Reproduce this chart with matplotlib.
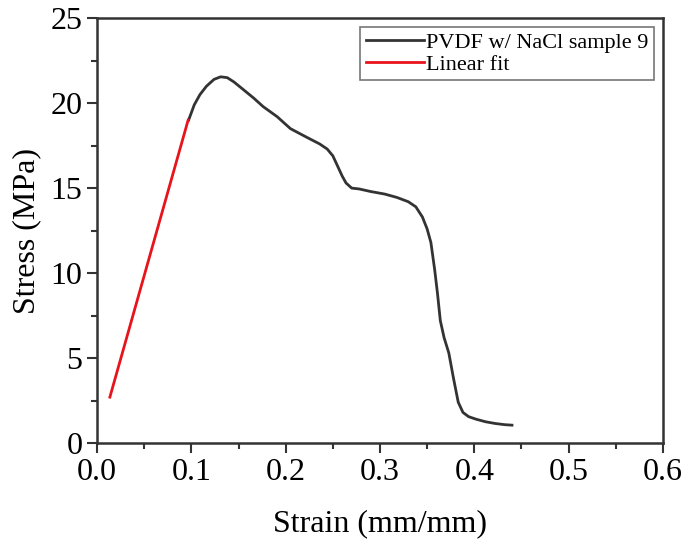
"""
Stress-strain curve with a linear fit on the elastic part.
"""
import matplotlib
matplotlib.use('Agg')
import matplotlib.pyplot as plt
from matplotlib.ticker import MultipleLocator

# Strain (mm/mm) and stress (MPa)
strain = [0.097, 0.103, 0.109, 0.116, 0.124, 0.131, 0.138, 0.145, 0.155,
          0.166, 0.176, 0.191, 0.205, 0.222, 0.236, 0.244, 0.250, 0.255,
          0.260, 0.264, 0.270, 0.278, 0.290, 0.305, 0.318, 0.330, 0.338,
          0.345, 0.350, 0.354, 0.358, 0.361, 0.364, 0.368, 0.373, 0.378,
          0.383, 0.388, 0.394, 0.402, 0.412, 0.422, 0.432, 0.440]
stress = [19.0, 19.9, 20.5, 21.0, 21.4, 21.55, 21.5, 21.25, 20.8,
          20.3, 19.8, 19.2, 18.5, 18.0, 17.6, 17.3, 16.9, 16.3,
          15.7, 15.3, 15.0, 14.95, 14.8, 14.65, 14.45, 14.2, 13.9,
          13.3, 12.6, 11.8, 10.2, 8.8, 7.2, 6.2, 5.3, 3.8,
          2.4, 1.8, 1.55, 1.4, 1.25, 1.15, 1.08, 1.05]

# Linear fit segment
fit_strain = [0.0135, 0.0965]
fit_stress = [2.7, 19.0]

plt.rcParams['font.family'] = ['Liberation Serif', 'DejaVu Serif']

fig = plt.figure(figsize=(6.89, 5.51), dpi=100)
ax = fig.add_axes([0.141, 0.196, 0.821, 0.771])

ax.plot(strain, stress, color='#333333', lw=2, label='PVDF w/ NaCl sample 9')
ax.plot(fit_strain, fit_stress, color='#e8141c', lw=2, label='Linear fit')

ax.set_xlim(0, 0.6)
ax.set_ylim(0, 25)
ax.xaxis.set_major_locator(MultipleLocator(0.1))
ax.xaxis.set_minor_locator(MultipleLocator(0.05))
ax.yaxis.set_major_locator(MultipleLocator(5))
ax.yaxis.set_minor_locator(MultipleLocator(2.5))
ax.tick_params(which='major', direction='out', length=7, width=1.5,
               labelsize=23, color='#333333')
ax.tick_params(which='minor', direction='out', length=4, width=1.5,
               color='#333333')
ax.set_xticklabels(['%.1f' % v for v in ax.get_xticks()])

for s in ax.spines.values():
    s.set_linewidth(1.8)
    s.set_color('#333333')

ax.set_xlabel('Strain (mm/mm)', fontsize=23, labelpad=16)
ax.set_ylabel('Stress (MPa)', fontsize=23, labelpad=7)

legend = ax.legend(loc='upper right', fontsize=16, fancybox=False,
                   handlelength=2.6, handletextpad=0.1, borderpad=0.25,
                   labelspacing=0.05, borderaxespad=0.4)
legend.get_frame().set_edgecolor('#555555')
legend.get_frame().set_linewidth(1.2)

fig.savefig('out.png', dpi=100)
